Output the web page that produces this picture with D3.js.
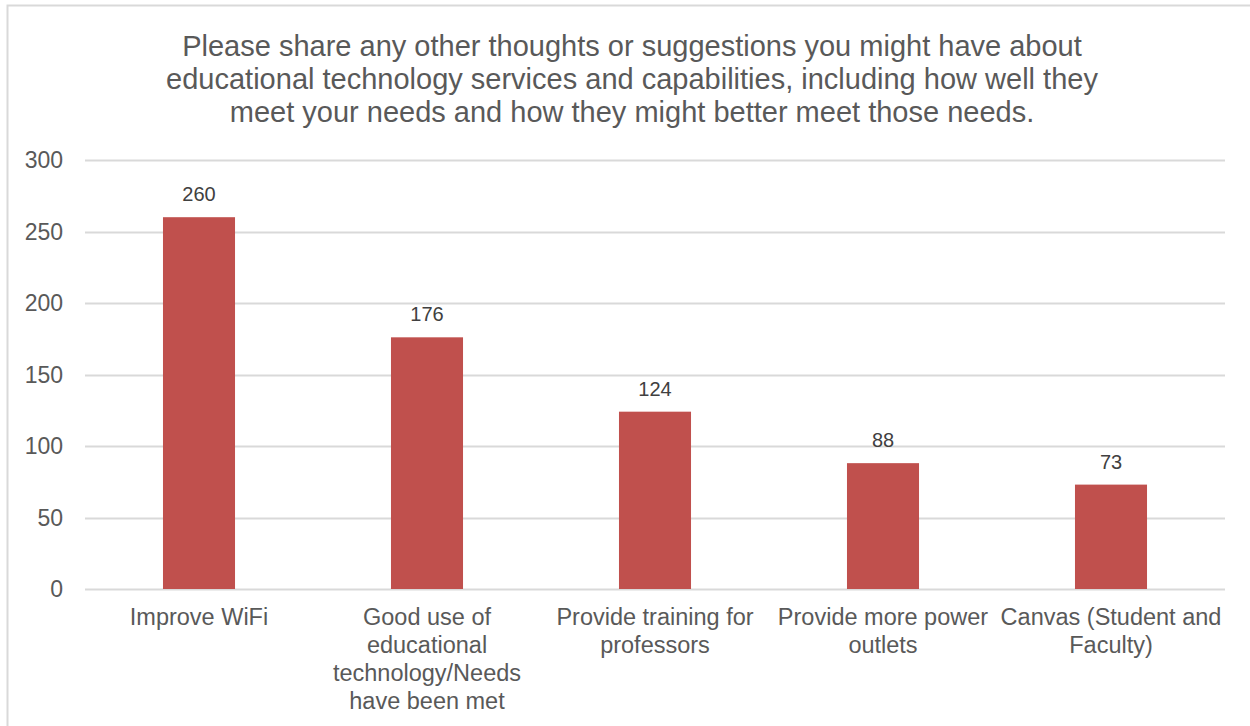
<!DOCTYPE html>
<html>
<head>
<meta charset="utf-8">
<script src="https://cdn.jsdelivr.net/npm/d3@7"></script>
<style>
  body { margin: 0; background: #fff; }
  svg { display: block; font-family: "Liberation Sans", Arial, sans-serif; }
</style>
</head>
<body>
<div id="chart"></div>
<script>
const titleLines = [
  "Please share any other thoughts or suggestions you might have about",
  "educational technology services and capabilities, including how well they",
  "meet your needs and how they might better meet those needs."
];
const categories = [
  ["Improve WiFi"],
  ["Good use of", "educational", "technology/Needs", "have been met"],
  ["Provide training for", "professors"],
  ["Provide more power", "outlets"],
  ["Canvas (Student and", "Faculty)"]
];
const values = [260, 176, 124, 88, 73];
const ticks = [0, 50, 100, 150, 200, 250, 300];

const width = 1250, height = 726;
const margin = { top: 160, right: 25, bottom: 137, left: 85 };

const svg = d3.select("#chart").append("svg")
  .attr("width", width)
  .attr("height", height);

// frame
svg.append("path")
  .attr("d", `M7.5,${height} V5.5 H${width}`)
  .attr("fill", "none")
  .attr("stroke", "#d9d9d9")
  .attr("stroke-width", 2);

// title
svg.append("text")
  .attr("x", 632)
  .attr("y", 56)
  .attr("text-anchor", "middle")
  .style("font-size", "29px")
  .style("fill", "#595959")
  .selectAll("tspan")
  .data(titleLines)
  .join("tspan")
  .attr("x", 632)
  .attr("dy", (d, i) => i === 0 ? 0 : 33)
  .text(d => d);

const x = d3.scaleBand()
  .domain(d3.range(values.length))
  .range([margin.left, width - margin.right])
  .paddingInner(0.684)
  .paddingOuter(0.342);

const y = d3.scaleLinear()
  .domain([0, 300])
  .range([height - margin.bottom, margin.top]);

// gridlines
svg.append("g")
  .selectAll("line")
  .data(ticks)
  .join("line")
  .attr("x1", margin.left)
  .attr("x2", width - margin.right)
  .attr("y1", d => Math.round(y(d)) + 0.5)
  .attr("y2", d => Math.round(y(d)) + 0.5)
  .attr("stroke", "#d9d9d9")
  .attr("stroke-width", 2);

// y tick labels
svg.append("g")
  .selectAll("text")
  .data(ticks)
  .join("text")
  .attr("x", 63)
  .attr("y", d => y(d) + 8)
  .attr("text-anchor", "end")
  .style("font-size", "23px")
  .style("fill", "#595959")
  .text(d => d);

// bars
svg.append("g")
  .selectAll("rect")
  .data(values)
  .join("rect")
  .attr("x", (d, i) => x(i))
  .attr("y", d => y(d))
  .attr("width", x.bandwidth())
  .attr("height", d => y(0) - y(d))
  .attr("fill", "#c0504d");

// data labels
svg.append("g")
  .selectAll("text")
  .data(values)
  .join("text")
  .attr("x", (d, i) => x(i) + x.bandwidth() / 2)
  .attr("y", d => y(d) - 16)
  .attr("text-anchor", "middle")
  .style("font-size", "20px")
  .style("fill", "#404040")
  .text(d => d);

// category labels
svg.append("g")
  .selectAll("text")
  .data(categories)
  .join("text")
  .attr("text-anchor", "middle")
  .style("font-size", "23.5px")
  .style("fill", "#595959")
  .each(function (lines, i) {
    const cx = x(i) + x.bandwidth() / 2;
    d3.select(this).selectAll("tspan")
      .data(lines)
      .join("tspan")
      .attr("x", cx)
      .attr("y", (d, j) => 625 + j * 28)
      .text(d => d);
  });
</script>
</body>
</html>
